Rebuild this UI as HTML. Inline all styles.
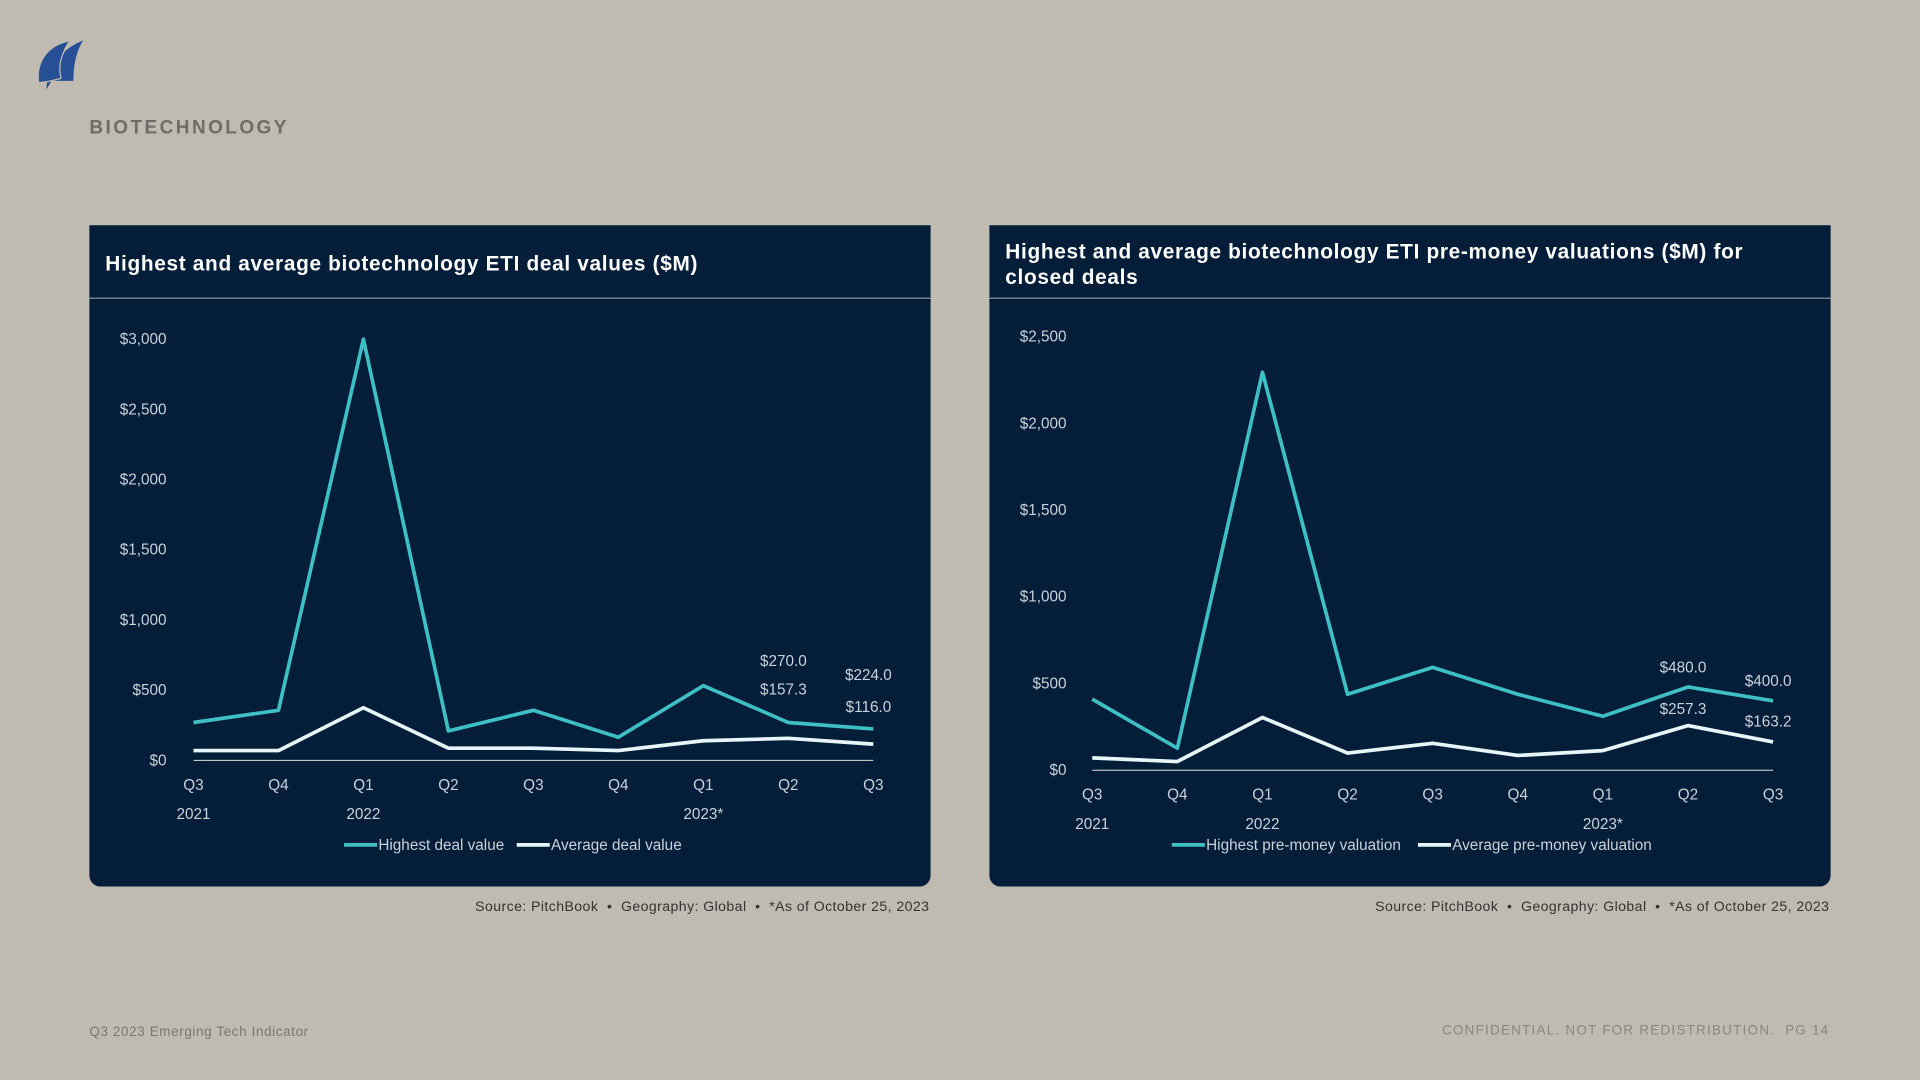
<!DOCTYPE html>
<html><head><meta charset="utf-8">
<style>
html,body{margin:0;padding:0;background:#c0bbb0;width:1920px;height:1080px;overflow:hidden}
#stage{position:absolute;left:0;top:0;width:1568px;height:882px;transform:scale(1.22449);transform-origin:0 0;font-family:"Liberation Sans",sans-serif}
.panel{position:absolute;top:184px;width:687px;height:540px;background:#041d38;border-radius:0 0 9px 9px;overflow:hidden}
.ptitle{position:absolute;left:13px;color:#fff;font-weight:bold;font-size:17px;letter-spacing:0.55px;line-height:21px}
.hline{position:absolute;left:0;right:0;top:59px;height:1px;background:#8a97a6}
.src{position:absolute;top:735px;font-size:11.5px;color:#333;text-align:right;width:600px;letter-spacing:0.35px}
svg text{font-family:"Liberation Sans Narrow","Liberation Sans",sans-serif;fill:#c9d2db;font-size:12.5px}
</style></head><body>
<div id="stage">
<svg style="position:absolute;left:28px;top:30px" width="44" height="45" viewBox="0 0 44 45">
<path d="M4 37 C2 22 10 8 28 4 C22 12 20 24 22 35 L12 36 Z" fill="#274f96"/>
<path d="M10 43 C10 28 18 12 40 3 C34 12 32 24 32 36 L14 36 Z" fill="#274f96"/>
<path d="M5 38 L22 34" stroke="#c0bbb0" stroke-width="1"/>
<path d="M22 34 C19 24 22 12 30 5" stroke="#c0bbb0" stroke-width="1" fill="none"/>
</svg>
<div style="position:absolute;left:73px;top:96px;font-size:15.5px;font-weight:bold;letter-spacing:2px;color:#6f6b66">BIOTECHNOLOGY</div>

<div class="panel" style="left:73px">
<div class="ptitle" style="top:21px;right:20px">Highest and average biotechnology ETI deal values ($M)</div>
<div class="hline"></div>
<svg id="c1" width="687" height="540" style="position:absolute;left:0;top:0"></svg>
</div>
<div class="src" style="left:159px">Source: PitchBook &nbsp;•&nbsp; Geography: Global &nbsp;•&nbsp; *As of October 25, 2023</div>

<div class="panel" style="left:808px">
<div class="ptitle" style="top:11px;width:630px">Highest and average biotechnology ETI pre-money valuations ($M) for<br>closed deals</div>
<div class="hline"></div>
<svg id="c2" width="687" height="540" style="position:absolute;left:0;top:0"></svg>
</div>
<div class="src" style="left:894px">Source: PitchBook &nbsp;•&nbsp; Geography: Global &nbsp;•&nbsp; *As of October 25, 2023</div>

<div style="position:absolute;left:73px;top:837px;font-size:11px;color:#7a7670;letter-spacing:.5px">Q3 2023 Emerging Tech Indicator</div>
<div style="position:absolute;right:74px;top:836px;font-size:11px;color:#8a857e;letter-spacing:1px">CONFIDENTIAL. NOT FOR REDISTRIBUTION.&nbsp; PG 14</div>
</div>
<script>
const quarters=["Q3","Q4","Q1","Q2","Q3","Q4","Q1","Q2","Q3"];
const years=["2021","","2022","","","","2023*","",""];
const dealHighest=[270,357,3000,210,357,165,532,270,224];
const dealAverage=[70,70,375,87,87,70,140,157.3,116];
const dealTicks=[0,500,1000,1500,2000,2500,3000];
const valHighest=[410,127,2295,438,593,438,311,480,400];
const valAverage=[71,50,304,99,155,85,113,257.3,163.2];
const valTicks=[0,500,1000,1500,2000,2500];
const NS="http://www.w3.org/2000/svg";
function mk(svg,tag,attrs,txt){const e=document.createElementNS(NS,tag);for(const k in attrs)e.setAttribute(k,attrs[k]);if(txt!==undefined)e.textContent=txt;svg.appendChild(e);return e;}
function draw(id,cfg){
  const svg=document.getElementById(id);
  const xs=i=>cfg.x0+i*cfg.step;
  const ys=v=>cfg.y0-(v/cfg.max)*(cfg.y0-cfg.yTop);
  cfg.ticks.forEach(t=>{
    const e=mk(svg,"text",{x:cfg.labX,y:ys(t)+4,"text-anchor":"end"},"$"+t.toLocaleString("en-US"));
    
    
  });
  const base=mk(svg,"line",{x1:xs(0),x2:xs(quarters.length-1),y1:cfg.y0,y2:cfg.y0,stroke:"#d8dee4","stroke-width":0.8});
  
  
  quarters.forEach((q,i)=>{
    const e=mk(svg,"text",{x:xs(i),y:cfg.y0+24,"text-anchor":"middle"},q);
    
    
    if(years[i]){const y=mk(svg,"text",{x:xs(i),y:cfg.y0+48,"text-anchor":"middle"},years[i]);
      
      }
  });
  [[cfg.hi,"#3ebfc4","highest-line"],[cfg.av,"#e6f6f8","average-line"]].forEach(([d,c,n])=>{
    const p=mk(svg,"polyline",{points:d.map((v,i)=>xs(i)+","+ys(v)).join(" "),fill:"none",stroke:c,"stroke-width":3,"stroke-linejoin":"round"});
    
    
  });
  const lab=(i,v,y)=>{const e=mk(svg,"text",{x:xs(i)-4,y:y,"text-anchor":"middle"},"$"+v.toFixed(1));
    
    };
  cfg.labels.forEach(([i,which,dy])=>{const d=which?cfg.hi:cfg.av;lab(i,d[i],ys(cfg.hi[i])+dy);});
  const lg=cfg.legend;
  [[lg.x1,"#3ebfc4",cfg.n1],[lg.x2,"#e6f6f8",cfg.n2]].forEach(([x,c,t])=>{
    const l=mk(svg,"line",{x1:x,x2:x+27,y1:lg.y,y2:lg.y,stroke:c,"stroke-width":3});
    
    
    const e=mk(svg,"text",{x:x+28,y:lg.y+4},t);
    
    
  });
}
draw("c1",{x0:85,step:69.4,y0:437,yTop:93,max:3000,labX:63,ticks:dealTicks,hi:dealHighest,av:dealAverage,
  labels:[[7,1,-46],[7,0,-23],[8,1,-40],[8,0,-14]],legend:{x1:208,x2:349,y:506},n1:"Highest deal value",n2:"Average deal value"});
draw("c2",{x0:84,step:69.5,y0:445,yTop:91,max:2500,labX:63,ticks:valTicks,hi:valHighest,av:valAverage,
  labels:[[7,1,-12],[7,0,22],[8,1,-12],[8,0,21]],legend:{x1:149,x2:350,y:506},n1:"Highest pre-money valuation",n2:"Average pre-money valuation"});
</script>
</body></html>
